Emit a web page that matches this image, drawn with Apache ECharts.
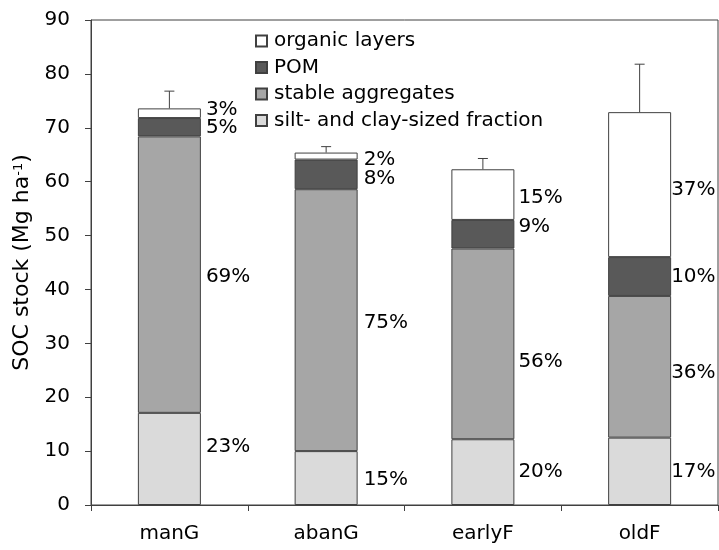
<!DOCTYPE html>
<html>
<head>
<meta charset="utf-8">
<script src="https://cdn.jsdelivr.net/npm/echarts@6/dist/echarts.min.js"></script>
<style>
  html, body { margin: 0; padding: 0; background: #ffffff; }
  #chart { width: 719px; height: 550px; }
</style>
</head>
<body>
<div id="chart"></div>
<script>
// SOC stock by land-use stage (Mg ha-1), split into fractions
const categories = ['manG', 'abanG', 'earlyF', 'oldF'];
const siltClay   = [17.1, 10.0, 12.2, 12.5];
const stableAgg  = [51.3, 48.6, 35.4, 26.3];
const pom        = [3.4, 5.5, 5.3, 7.2];
const organic    = [1.8, 1.3, 9.4, 26.9];
const totalError = [3.2, 1.1, 2.0, 8.9];

// share of each fraction in the total stock
const pctSilt    = ['23%', '15%', '20%', '17%'];
const pctStable  = ['69%', '75%', '56%', '36%'];
const pctPom     = ['5%', '8%', '9%', '10%'];
const pctOrganic = ['3%', '2%', '15%', '37%'];

const seriesNames = ['silt- and clay-sized fraction', 'stable aggregates', 'POM', 'organic layers'];

// label nudges (px) so the share labels sit clear of each other
const labelDx = [1, 2, 0, -4];
const labelDy = {
  silt:    [-12, 2, 0, 0],
  stable:  [2, 3, 18, 6],
  pom:     [1, 4, -7, 0],
  organic: [-3, 4, 3, 5]
};

const FONT = 'DejaVu Sans';
const INK = '#000000';
const EDGE = '#404040';

function withLabels(values, texts, dys) {
  return values.map((v, i) => ({
    value: v,
    label: { formatter: texts[i], offset: [labelDx[i], dys[i]] }
  }));
}

function barSeries(name, values, texts, dys, color) {
  return {
    name: name,
    type: 'bar',
    stack: 'soc',
    barWidth: 63,
    data: withLabels(values, texts, dys),
    itemStyle: { color: color, borderColor: EDGE, borderWidth: 1 },
    label: {
      show: true,
      position: 'right',
      distance: 4,
      fontFamily: FONT,
      fontSize: 20,
      color: INK
    },
    emphasis: { disabled: true },
    animation: false
  };
}

const totals = categories.map((_, i) => siltClay[i] + stableAgg[i] + pom[i] + organic[i]);
const errorData = categories.map((_, i) => [i, totals[i], totalError[i]]);

const chart = echarts.init(document.getElementById('chart'), null, { renderer: 'canvas' });

chart.setOption({
  backgroundColor: '#ffffff',
  animation: false,
  textStyle: { fontFamily: FONT },
  grid: {
    left: 91, right: 1, top: 20, bottom: 45,
    show: true,
    borderColor: EDGE,
    borderWidth: 1,
    containLabel: false
  },
  legend: {
    orient: 'vertical',
    left: 255,
    top: 31,
    padding: 0,
    itemWidth: 11,
    itemHeight: 11,
    itemGap: 6.5,
    icon: 'rect',
    selectedMode: false,
    data: ['organic layers', 'POM', 'stable aggregates', 'silt- and clay-sized fraction'],
    textStyle: {
      fontFamily: FONT,
      fontSize: 20,
      lineHeight: 20,
      color: INK,
      padding: [0, 0, 0, 2]
    }
  },
  xAxis: {
    type: 'category',
    data: categories,
    axisLine: { lineStyle: { color: EDGE, width: 1 } },
    axisTick: { show: true, length: 6, inside: false, lineStyle: { color: EDGE } },
    axisLabel: { fontFamily: FONT, fontSize: 20, color: INK, margin: 19, interval: 0 },
    splitLine: { show: false }
  },
  yAxis: {
    type: 'value',
    min: 0,
    max: 90,
    interval: 10,
    name: '{m|SOC stock (Mg ha}{s|-1}{m|)}',
    nameLocation: 'middle',
    nameGap: 51,
    nameRotate: 90,
    nameTextStyle: {
      rich: {
        m: { fontFamily: FONT, fontSize: 22, color: INK },
        s: { fontFamily: FONT, fontSize: 13, color: INK, verticalAlign: 'top' }
      }
    },
    axisLine: { show: true, lineStyle: { color: EDGE, width: 1 } },
    axisTick: { show: true, length: 6, inside: false, lineStyle: { color: EDGE } },
    axisLabel: { fontFamily: FONT, fontSize: 20, color: INK, margin: 21 },
    splitLine: { show: false }
  },
  series: [
    barSeries(seriesNames[0], siltClay, pctSilt, labelDy.silt, '#dadada'),
    barSeries(seriesNames[1], stableAgg, pctStable, labelDy.stable, '#a6a6a6'),
    barSeries(seriesNames[2], pom, pctPom, labelDy.pom, '#595959'),
    barSeries(seriesNames[3], organic, pctOrganic, labelDy.organic, '#ffffff'),
    {
      name: 'error',
      type: 'custom',
      data: errorData,
      z: 10,
      silent: true,
      renderItem: function (params, api) {
        const idx = api.value(0);
        const base = api.coord([idx, api.value(1)]);
        const top = api.coord([idx, api.value(1) + api.value(2)]);
        const half = 5;
        const style = { stroke: EDGE, lineWidth: 1 };
        return {
          type: 'group',
          children: [
            { type: 'line', shape: { x1: base[0], y1: base[1], x2: top[0], y2: top[1] }, style: style },
            { type: 'line', shape: { x1: top[0] - half, y1: top[1], x2: top[0] + half, y2: top[1] }, style: style }
          ]
        };
      }
    }
  ]
});
</script>
</body>
</html>
